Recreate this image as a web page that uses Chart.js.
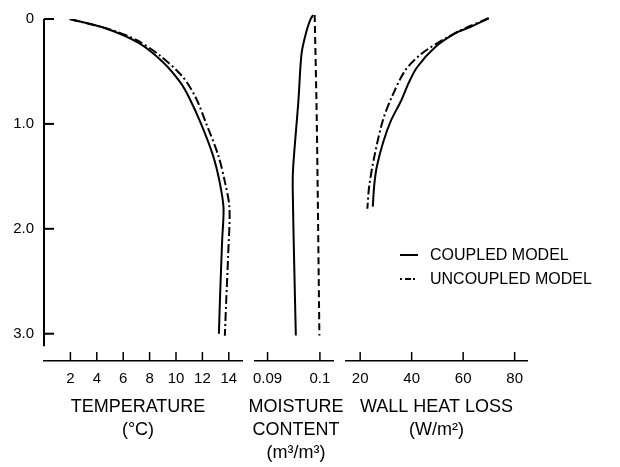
<!DOCTYPE html>
<html>
<head>
<meta charset="utf-8">
<script src="https://cdn.jsdelivr.net/npm/chart.js@4.4.1/dist/chart.umd.min.js"></script>
<style>
  html, body { margin: 0; padding: 0; background: #fff; }
  #wrap { position: relative; width: 620px; height: 467px; }
  #wrap canvas { position: absolute; left: 0; top: 0; }
</style>
</head>
<body>
<div id="wrap">
  <canvas id="temp-chart" width="620" height="467"></canvas>
  <canvas id="moist-chart" width="620" height="467"></canvas>
  <canvas id="heat-chart" width="620" height="467"></canvas>
</div>
<script>
// ─── Data (depth in m) ───────────────────────────────────────────
const depthTicks = [0, 1, 2, 3];
const depthLabels = ["0", "1.0", "2.0", "3.0"];
const tempTicks = [2, 4, 6, 8, 10, 12, 14];
const moistTicks = [0.09, 0.1];
const heatTicks = [20, 40, 60, 80];
const seriesNames = ["COUPLED MODEL", "UNCOUPLED MODEL"];

const tempDepthCoupled = [0, 0.09, 0.23, 0.41, 0.60, 0.75, 1.0, 1.3, 1.55, 1.8, 2.1, 2.6, 3.0];
const tempCoupled      = [1.95, 4.7, 7.2, 9.0, 10.3, 11.0, 11.9, 12.8, 13.3, 13.6, 13.5, 13.35, 13.25];
const tempDepthUncoupled = [0, 0.1, 0.2, 0.35, 0.55, 0.75, 1.0, 1.3, 1.55, 1.8, 2.25, 2.7, 3.02];
const tempUncoupled      = [1.95, 5.0, 7.0, 8.8, 10.5, 11.5, 12.3, 13.2, 13.7, 14.05, 13.95, 13.8, 13.7];

const moistDepthCoupled = [0.01, 0.05, 0.15, 0.37, 0.81, 1.43, 1.62, 2.37, 3.02];
const moistCoupled      = [0.0987, 0.0982, 0.0975, 0.0965, 0.0959, 0.0949, 0.0948, 0.0951, 0.0954];
const moistDepthUncoupled = [0.01, 1.0, 3.02];
const moistUncoupled      = [0.0990, 0.0994, 0.0999];

const heatDepthCoupled = [0.04, 0.13, 0.18, 0.31, 0.50, 0.65, 0.81, 1.0, 1.2, 1.43, 1.6, 1.81];
const heatCoupled      = [69.9, 62, 57, 49.2, 42.1, 38.8, 36.0, 32.0, 29.0, 26.5, 25.5, 24.9];
const heatDepthUncoupled = [0.04, 0.12, 0.23, 0.37, 0.53, 0.78, 1.0, 1.34, 1.62, 1.83];
const heatUncoupled      = [69.9, 62, 53.1, 44.0, 37.5, 32.3, 28.8, 25.5, 23.5, 22.8];

// ─── Styling ─────────────────────────────────────────────────────
const FONT = "'Liberation Sans', Arial, Helvetica, sans-serif";
const INK = "#000";
const DASH_DOT = [9, 3, 2, 3];
const DASHED = [7, 4];
const DEPTH_MAX = 3.26;
const DEPTH_AXIS_END = 3.12;

function points(xs, ys) {
    return xs.map((x, i) => ({ x: x, y: ys[i] }));
}

function lineSet(label, values, depths, dash) {
    return {
        label,
        data: points(values, depths),
        showLine: true,
        borderColor: INK,
        borderWidth: 2,
        borderDash: dash,
        pointRadius: 0,
        tension: 0.3,
        fill: false,
    };
}

// inward tick marks + y axis line that stops short of the bottom axes
const inwardTicks = {
    id: "inwardTicks",
    afterDraw(chart) {
        const ctx = chart.ctx;
        ctx.save();
        ctx.strokeStyle = INK;
        Object.values(chart.scales).forEach(scale => {
            if (!scale.options.display) return;
            ctx.lineWidth = scale.isHorizontal() ? 1.5 : 2;
            scale.ticks.forEach(t => {
                const p = scale.getPixelForValue(t.value);
                ctx.beginPath();
                if (scale.isHorizontal()) {
                    ctx.moveTo(p, scale.top);
                    ctx.lineTo(p, scale.top - 9);
                } else {
                    ctx.moveTo(scale.right, p);
                    ctx.lineTo(scale.right + 10, p);
                }
                ctx.stroke();
            });
            if (!scale.isHorizontal()) {
                ctx.lineWidth = 2;
                ctx.beginPath();
                ctx.moveTo(scale.right, scale.getPixelForValue(0));
                ctx.lineTo(scale.right, scale.getPixelForValue(DEPTH_AXIS_END));
                ctx.stroke();
            }
        });
        ctx.restore();
    }
};

// multi-line caption under each bottom axis (not squeezed to the axis width)
const axisCaption = {
    id: "axisCaption",
    afterDraw(chart, args, opts) {
        if (!opts.lines) return;
        const ctx = chart.ctx;
        const sx = chart.scales.x;
        const cx = (sx.left + sx.right) / 2 + (opts.dx || 0);
        ctx.save();
        ctx.fillStyle = INK;
        ctx.font = `${opts.size}px ${FONT}`;
        ctx.textAlign = "center";
        ctx.textBaseline = "middle";
        opts.lines.forEach((t, i) => {
            ctx.fillText(t, cx, sx.top + opts.offset + i * opts.lineHeight);
        });
        ctx.restore();
    }
};

// legend drawn inside the heat loss panel
const sideLegend = {
    id: "sideLegend",
    afterDraw(chart, args, opts) {
        if (!opts.items) return;
        const ctx = chart.ctx;
        ctx.save();
        opts.items.forEach((item, i) => {
            const y = opts.y + i * opts.gap;
            ctx.strokeStyle = INK;
            ctx.lineWidth = 2;
            ctx.setLineDash(item.dash);
            ctx.beginPath();
            ctx.moveTo(opts.x, y);
            ctx.lineTo(opts.x + opts.sample, y);
            ctx.stroke();
            ctx.setLineDash([]);
            ctx.fillStyle = INK;
            ctx.font = `${opts.size}px ${FONT}`;
            ctx.textBaseline = "middle";
            ctx.fillText(item.text, opts.x + opts.sample + 12, y + 1);
        });
        ctx.restore();
    }
};

function depthScale(show) {
    return {
        type: "linear",
        display: show,
        reverse: true,
        min: 0,
        max: DEPTH_MAX,
        afterFit: s => { if (show) s.width = 44; },
        afterBuildTicks: s => { s.ticks = depthTicks.map(v => ({ value: v })); },
        grid: { display: false, drawTicks: false },
        border: { display: false },
        ticks: {
            color: INK,
            padding: 10,
            font: { family: FONT, size: 15 },
            callback: (v, i) => depthLabels[i],
        },
    };
}

function bottomScale(min, max, tickVals) {
    return {
        type: "linear",
        position: "bottom",
        min, max,
        afterFit: s => { s.height = 106; },
        afterBuildTicks: s => { s.ticks = tickVals.map(v => ({ value: v })); },
        grid: { display: false, drawTicks: false },
        border: { display: true, color: INK, width: 1.5 },
        ticks: {
            color: INK,
            padding: 9,
            maxRotation: 0,
            autoSkip: false,
            font: { family: FONT, size: 15 },
            callback: v => String(v),
        },
    };
}

function makePanel(canvasId, opts) {
    return new Chart(document.getElementById(canvasId), {
        type: "scatter",
        data: { datasets: opts.datasets },
        options: {
            responsive: false,
            animation: false,
            layout: { padding: { top: 14, bottom: 0, left: opts.left, right: opts.right } },
            plugins: {
                legend: { display: false },
                tooltip: { enabled: false },
                axisCaption: { lines: opts.title, dx: opts.titleDx, offset: 46, lineHeight: 23, size: 18 },
                sideLegend: opts.legend || {},
            },
            scales: {
                x: bottomScale(opts.min, opts.max, opts.ticks),
                y: depthScale(opts.showDepth),
            },
        },
        plugins: [inwardTicks, axisCaption, sideLegend],
    });
}

// ─── Panels ──────────────────────────────────────────────────────
makePanel("temp-chart", {
    left: 0, right: 378, min: 0, max: 15, ticks: tempTicks,
    title: ["TEMPERATURE", "(°C)"], titleDx: -5, showDepth: true,
    datasets: [
        lineSet(seriesNames[0], tempCoupled, tempDepthCoupled, []),
        lineSet(seriesNames[1], tempUncoupled, tempDepthUncoupled, DASH_DOT),
    ],
});

makePanel("moist-chart", {
    left: 255, right: 287, min: 0.0876, max: 0.1025, ticks: moistTicks,
    title: ["MOISTURE", "CONTENT", "(m³/m³)"], titleDx: 2, showDepth: false,
    datasets: [
        lineSet(seriesNames[0], moistCoupled, moistDepthCoupled, []),
        lineSet(seriesNames[1], moistUncoupled, moistDepthUncoupled, DASHED),
    ],
});

makePanel("heat-chart", {
    left: 346, right: 93, min: 14.5, max: 84.8, ticks: heatTicks,
    title: ["WALL HEAT LOSS", "(W/m²)"], titleDx: 0, showDepth: false,
    datasets: [
        lineSet(seriesNames[0], heatCoupled, heatDepthCoupled, []),
        lineSet(seriesNames[1], heatUncoupled, heatDepthUncoupled, DASH_DOT),
    ],
    legend: {
        x: 400, y: 255, gap: 24, sample: 18, size: 16,
        items: [
            { text: seriesNames[0], dash: [] },
            { text: seriesNames[1], dash: [2, 3, 6, 2] },
        ],
    },
});
</script>
</body>
</html>
